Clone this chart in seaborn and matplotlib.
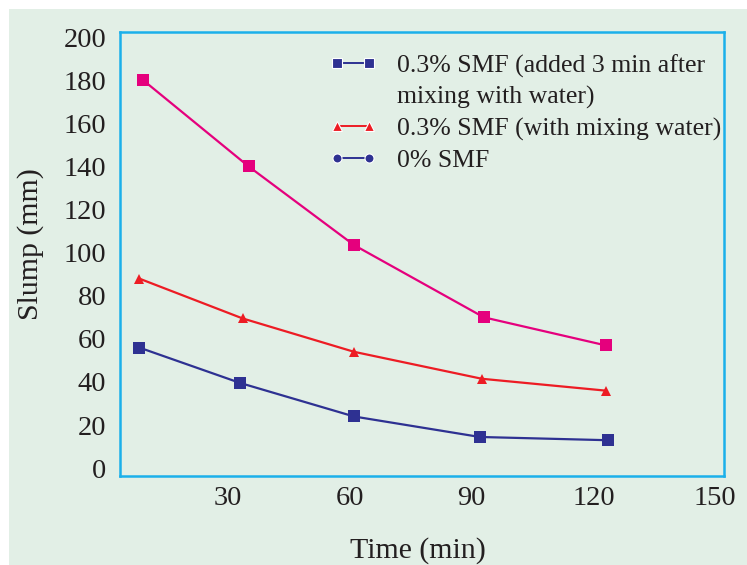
import matplotlib
matplotlib.use("Agg")
import matplotlib.pyplot as plt
from matplotlib.lines import Line2D
from matplotlib.patches import Rectangle
import seaborn as sns

# values
time_after = [9, 35, 61, 93, 123]
slump_after = [180, 140, 103.5, 70, 57]
time_with = [8, 33.5, 61, 92.5, 123]
slump_with = [88, 69.5, 54, 41.5, 36]
time_none = [8, 33, 61, 92, 123.5]
slump_none = [56, 39.5, 24, 14.5, 13]

x_ticks = [30, 60, 90, 120, 150]
y_ticks = [0, 20, 40, 60, 80, 100, 120, 140, 160, 180, 200]
legend_labels = ["0.3% SMF (added 3 min after", "mixing with water)",
                 "0.3% SMF (with mixing water)", "0% SMF"]

BG = "#e2efe6"
CYAN = "#1bb0ea"
PINK = "#e5007d"
RED = "#ed1c24"
NAVY = "#2e3192"
INK = "#231f20"

sns.set_theme(style="white")
plt.rcParams["font.family"] = ["Liberation Serif", "DejaVu Serif"]
plt.rcParams["text.color"] = INK
plt.rcParams["axes.labelcolor"] = INK
plt.rcParams["xtick.color"] = INK
plt.rcParams["ytick.color"] = INK

fig = plt.figure(figsize=(7.47, 5.65), dpi=100)
fig.patch.set_facecolor("white")
fig.add_artist(Rectangle((9 / 747, 0), 1, 1 - 9 / 565, transform=fig.transFigure,
                         facecolor=BG, edgecolor="none", zorder=-10))
ax = fig.add_axes([120 / 747, 89 / 565, 604 / 747, 443.7 / 565])
ax.set_facecolor(BG)

sns.lineplot(x=time_after, y=slump_after, color=PINK, marker="s", markersize=8.4,
             markeredgewidth=0, linewidth=1.6, ax=ax)
sns.lineplot(x=time_with, y=slump_with, color=RED, marker="^", markersize=7.6,
             markeredgewidth=0, linewidth=1.6, ax=ax)
sns.lineplot(x=time_none, y=slump_none, color=NAVY, marker="s", markersize=8.0,
             markeredgewidth=0, linewidth=1.6, ax=ax)

ax.set_xlim(3.3, 152.2)
ax.set_ylim(-3.6, 202.2)
ax.set_xticks(x_ticks)
ax.set_yticks(y_ticks)
ax.tick_params(axis="both", direction="in", color=CYAN, width=1.6, labelsize=20.5)
ax.tick_params(axis="x", length=10, pad=7.5)
ax.tick_params(axis="y", length=11, pad=10)
# no tick marks at the frame corners
ax.yaxis.get_major_ticks()[0].tick1line.set_visible(False)
ax.yaxis.get_major_ticks()[-1].tick1line.set_visible(False)
ax.xaxis.get_major_ticks()[-1].tick1line.set_visible(False)

for sp in ax.spines.values():
    sp.set_visible(True)
    sp.set_color(CYAN)
    sp.set_linewidth(1.8)

ax.set_xlabel("Time (min)", fontsize=21.5)
ax.set_ylabel("Slump (mm)", fontsize=21.5)
ax.xaxis.set_label_coords(0.493, -0.137)
ax.yaxis.set_label_coords(-0.125, 0.523)

handles = [
    Line2D([], [], color=NAVY, marker="s", markersize=7, lw=1.4,
           markeredgecolor="white", markeredgewidth=0.8),
    Line2D([], [], color="none"),
    Line2D([], [], color=RED, marker="^", markersize=7, lw=1.4,
           markeredgecolor="white", markeredgewidth=0.8),
    Line2D([], [], color=NAVY, marker="o", markersize=6.5, lw=1.4,
           markeredgecolor="white", markeredgewidth=0.8),
]
ax.legend(handles, legend_labels, loc="upper left", bbox_to_anchor=(0.346, 0.95),
          frameon=False, fontsize=18.5, numpoints=2, handlelength=1.87,
          handletextpad=0.79, labelspacing=0.31, borderpad=0, borderaxespad=0)

fig.savefig("out.png", dpi=100, facecolor=fig.get_facecolor())
